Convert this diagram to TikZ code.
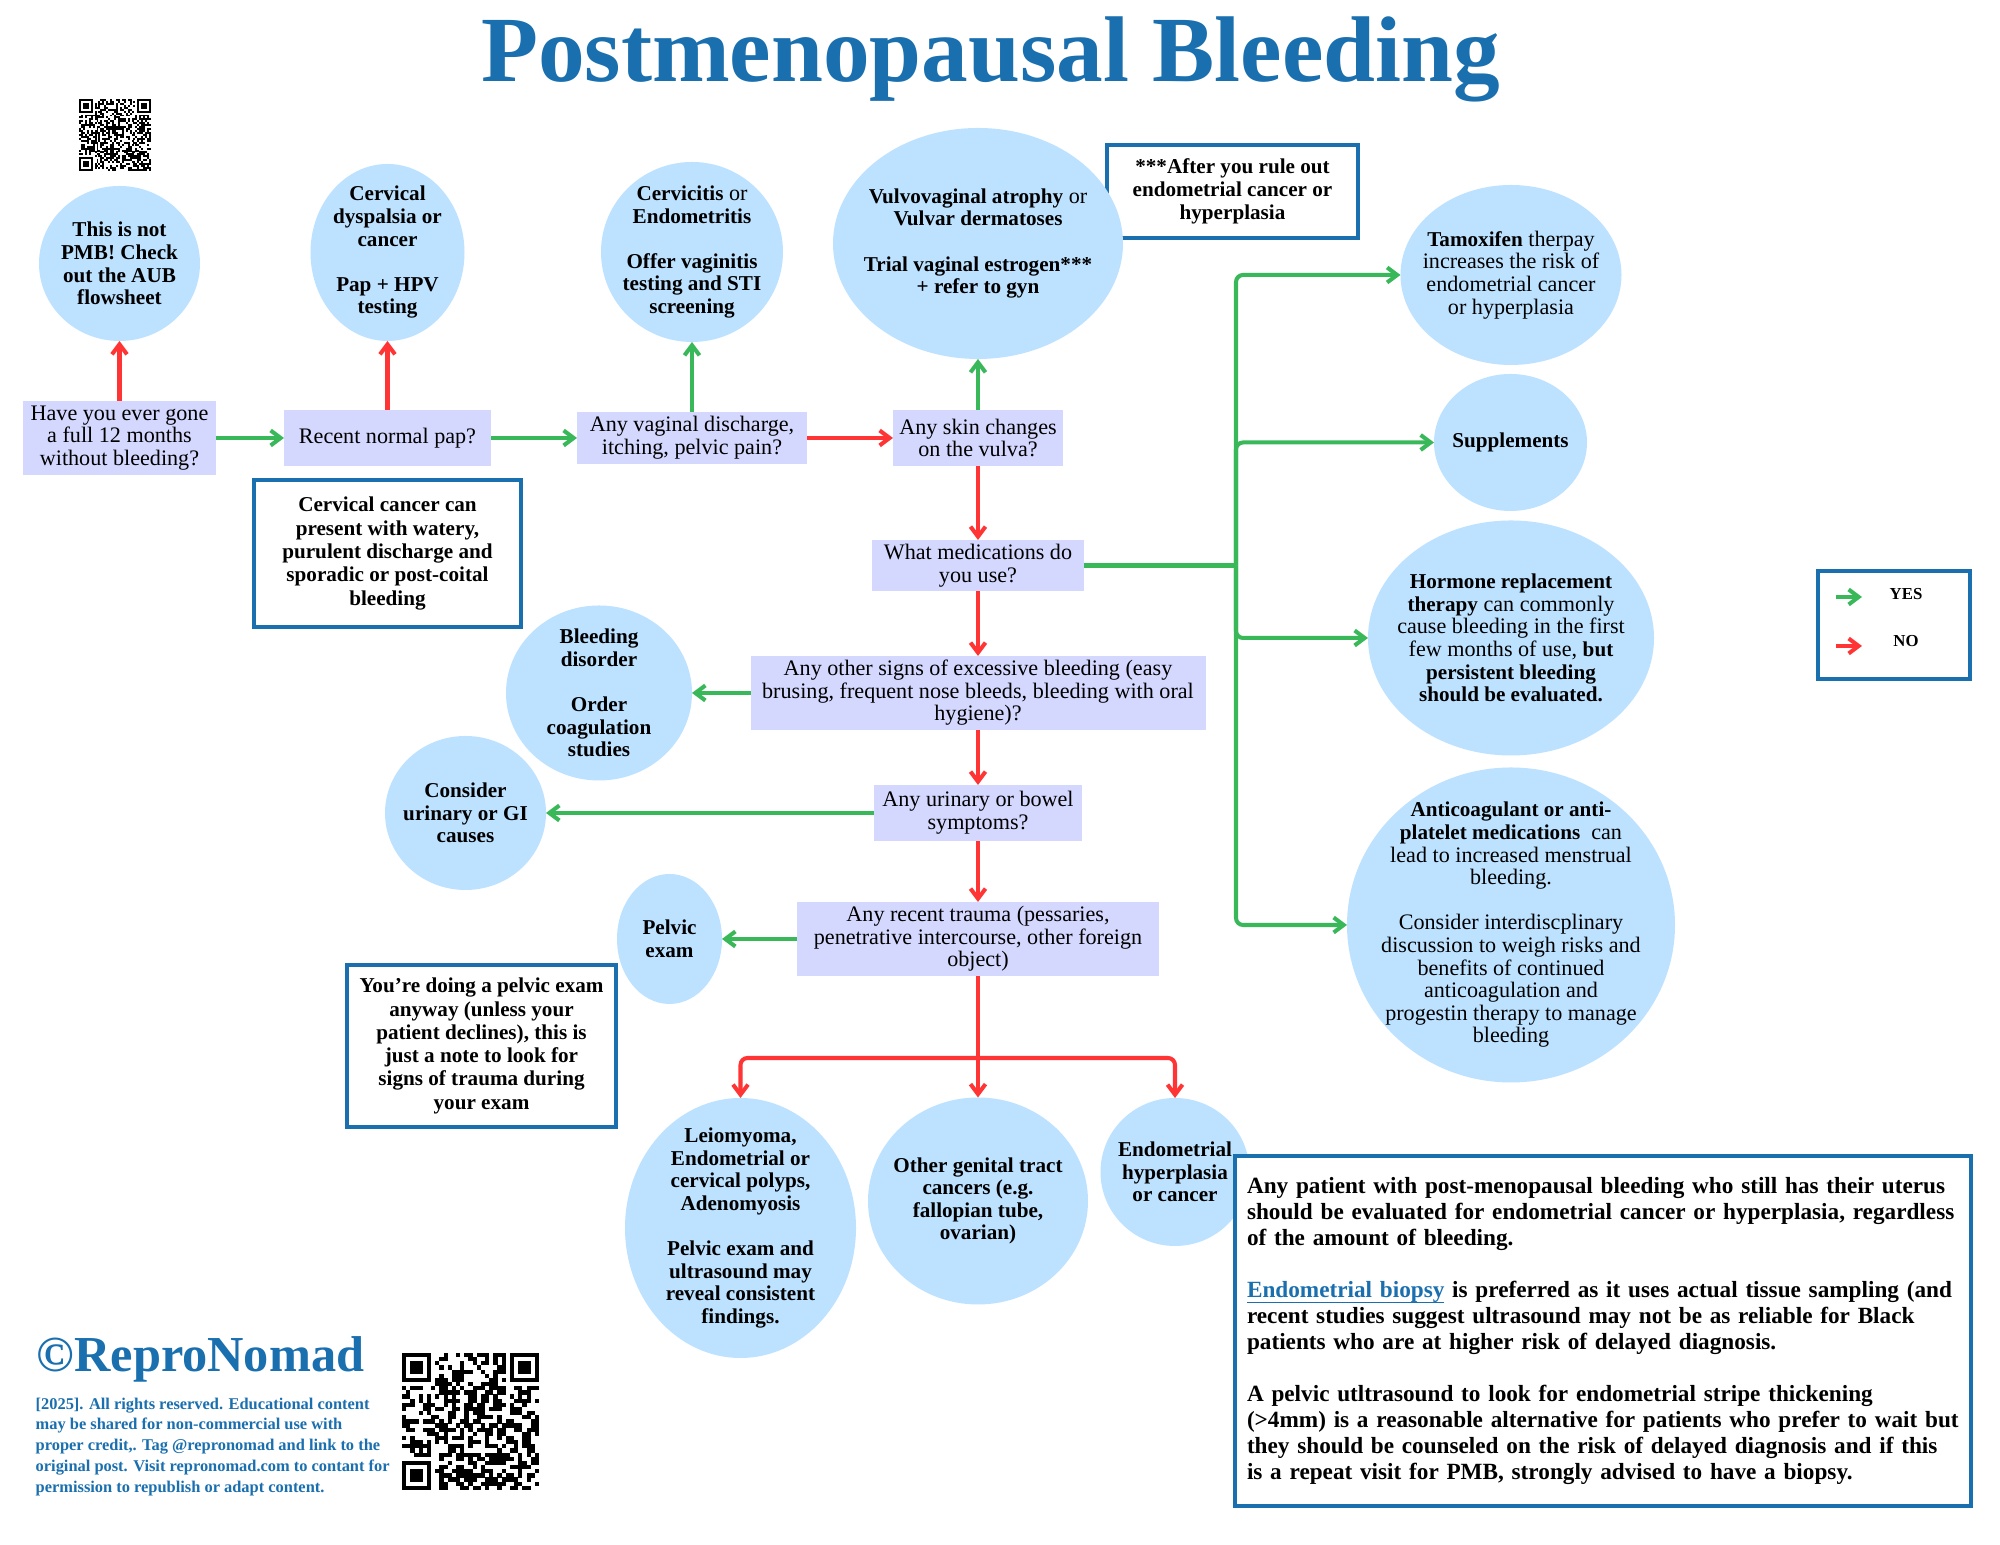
\documentclass[tikz,border=0pt]{standalone}
\usepackage{fontspec}
\setmainfont{Liberation Serif}[BoldFeatures={Scale=0.955}]
\usepackage{xcolor}
\usetikzlibrary{arrows.meta,positioning,calc,shapes.geometric}
\definecolor{BubbleBlue}{HTML}{BDE2FF}
\definecolor{QuestionLilac}{HTML}{D5D8FE}
\definecolor{NoteBlue}{HTML}{1A6FAF}
\definecolor{YesGreen}{HTML}{39B85A}
\definecolor{NoRed}{HTML}{FF3535}
\newcommand{\qrblock}[5]{%
  \begin{scope}[shift={(#1,#2)},x=#3cm/#4,y=#3cm/#4]
    \clip (0,0) rectangle (#4,#4);
    \pgfmathsetseed{#5}
    \pgfmathtruncatemacro{\qrlast}{#4-1}
    \foreach \qi in {0,...,\qrlast}
      \foreach \qj in {0,...,\qrlast} {
        \pgfmathrandominteger{\qrbit}{0}{1}
        \ifnum\qrbit=1 \fill[black] (\qi,\qj) rectangle +(1.02,1.02); \fi
      }
    \pgfmathtruncatemacro{\qrend}{#4-7}
    \foreach \qx/\qy in {0/0,0/\qrend,\qrend/\qrend} {
      \fill[white] (\qx-1,\qy-1) rectangle +(9,9);
      \fill[black] (\qx,\qy) rectangle +(7,7);
      \fill[white] (\qx+1,\qy+1) rectangle +(5,5);
      \fill[black] (\qx+2,\qy+2) rectangle +(3,3);
    }
  \end{scope}
}

\begin{document}
\begin{tikzpicture}[
  x=1cm,y=1cm,
  font=\fontsize{6.3}{6.43}\selectfont,
  yes/.style={-{Straight Barb[length=1mm,width=1.5mm]},draw=YesGreen,line width=1.15pt},
  no/.style={-{Straight Barb[length=1mm,width=1.5mm]},draw=NoRed,line width=1.15pt},
  bubble/.style={ellipse,fill=BubbleBlue,align=center,inner sep=-1.5cm,outer sep=0pt},
  boldbubble/.style={bubble,font=\fontsize{6.3}{6.43}\selectfont\bfseries},
  question/.style={fill=QuestionLilac,align=center,inner sep=0pt,outer sep=0pt},
  remark/.style={draw=NoteBlue,fill=white,line width=1.13pt,align=center,inner sep=0pt,
    outer sep=0pt,font=\fontsize{6.3}{6.62}\selectfont\bfseries}
]
  \useasboundingbox (0,0) rectangle (20,15.45);
  \fill[white] (0,0) rectangle (20,15.45);

  \node[anchor=base,text=NoteBlue,font=\fontsize{27.8}{30}\selectfont\bfseries] (title)
    at (9.905,14.63) {Postmenopausal Bleeding};

  \qrblock{0.79}{13.74}{0.72}{37}{7}

  \node[remark,minimum width=2.51cm,minimum height=0.93cm] (starnote) at (12.325,13.535)
    {***After you rule out\\endometrial cancer or\\hyperplasia};

  \node[boldbubble,minimum width=1.61cm,minimum height=1.55cm]
    (notpmb) at (1.195,12.815) {This is not\\PMB! Check\\out the AUB\\flowsheet};
  \node[boldbubble,minimum width=1.54cm,minimum height=1.77cm]
    (dysplasia) at (3.875,12.925) {Cervical\\dyspalsia or\\cancer\\[6.43pt]Pap + HPV\\testing};
  \node[bubble,minimum width=1.82cm,minimum height=1.80cm]
    (cervicitis) at (6.92,12.93)
    {\textbf{Cervicitis} or\\\textbf{Endometritis}\\[6.43pt]\textbf{Offer vaginitis}\\\textbf{testing and STI}\\\textbf{screening}};
  \node[bubble,minimum width=2.90cm,minimum height=2.31cm]
    (vulvo) at (9.78,13.015)
    {\textbf{Vulvovaginal atrophy} or\\\textbf{Vulvar dermatoses}\\[6.43pt]\textbf{Trial vaginal estrogen***}\\\textbf{+ refer to gyn}};

  \node[question,minimum width=1.93cm,minimum height=0.74cm] (fullyear) at (1.195,11.07)
    {Have you ever gone\\a full 12 months\\without bleeding?};
  \node[question,minimum width=2.07cm,minimum height=0.56cm] (normalpap) at (3.875,11.07)
    {Recent normal pap?};
  \node[question,minimum width=2.30cm,minimum height=0.52cm] (discharge) at (6.92,11.07)
    {Any vaginal discharge,\\itching, pelvic pain?};
  \node[question,minimum width=1.70cm,minimum height=0.56cm] (skin) at (9.78,11.07)
    {Any skin changes\\on the vulva?};
  \node[question,minimum width=2.12cm,minimum height=0.51cm] (meds) at (9.78,9.795)
    {What medications do\\you use?};
  \node[question,minimum width=4.55cm,minimum height=0.74cm] (excess) at (9.78,8.52)
    {Any other signs of excessive bleeding (easy\\brusing, frequent nose bleeds, bleeding with oral\\hygiene)?};
  \node[question,minimum width=2.08cm,minimum height=0.56cm] (urinary) at (9.78,7.32)
    {Any urinary or bowel\\symptoms?};
  \node[question,minimum width=3.62cm,minimum height=0.74cm] (trauma) at (9.78,6.06)
    {Any recent trauma (pessaries,\\penetrative intercourse, other foreign\\object)};

  \node[remark,minimum width=2.67cm,minimum height=1.47cm] (cervnote) at (3.875,9.915)
    {Cervical cancer can\\present with watery,\\purulent discharge and\\sporadic or post-coital\\bleeding};
  \node[remark,minimum width=2.69cm,minimum height=1.62cm] (pelvnote) at (4.815,4.99)
    {You’re doing a pelvic exam\\anyway (unless your\\patient declines), this is\\just a note to look for\\signs of trauma during\\your exam};

  \node[bubble,minimum width=2.21cm,minimum height=1.80cm] (tamoxifen) at (15.11,12.70)
    {\textbf{Tamoxifen} therpay\\increases the risk of\\endometrial cancer\\or hyperplasia};
  \node[bubble,minimum width=1.53cm,minimum height=1.37cm] (supplements) at (15.105,11.025)
    {\textbf{Supplements}};
  \node[bubble,minimum width=2.86cm,minimum height=2.35cm] (hormone) at (15.11,9.07)
    {\textbf{Hormone replacement}\\\textbf{therapy} can commonly\\cause bleeding in the first\\few months of use, \textbf{but}\\\textbf{persistent bleeding}\\\textbf{should be evaluated.}};
  \node[bubble,minimum width=3.28cm,minimum height=3.15cm] (anticoag) at (15.11,6.20)
    {\textbf{Anticoagulant or anti-}\\\textbf{platelet medications}~~can\\lead to increased menstrual\\bleeding.\\[6.43pt]Consider interdiscplinary\\discussion to weigh risks and\\benefits of continued\\anticoagulation and\\progestin therapy to manage\\bleeding};

  \node[boldbubble,minimum width=1.86cm,minimum height=1.75cm]
    (disorder) at (5.99,8.52) {Bleeding\\disorder\\[6.43pt]Order\\coagulation\\studies};
  \node[boldbubble,minimum width=1.61cm,minimum height=1.54cm]
    (gicauses) at (4.655,7.32) {Consider\\urinary or GI\\causes};
  \node[boldbubble,minimum width=1.05cm,minimum height=1.30cm]
    (pelvic) at (6.695,6.06) {Pelvic\\exam};
  \node[boldbubble,minimum width=2.31cm,minimum height=2.60cm]
    (leiomyoma) at (7.405,3.17)
    {Leiomyoma,\\Endometrial or\\cervical polyps,\\Adenomyosis\\[6.43pt]Pelvic exam and\\ultrasound may\\reveal consistent\\findings.};
  \node[boldbubble,minimum width=2.20cm,minimum height=2.07cm]
    (genital) at (9.78,3.44) {Other genital tract\\cancers (e.g.\\fallopian tube,\\ovarian)};
  \node[boldbubble,minimum width=1.49cm,minimum height=1.48cm]
    (endometrial) at (11.75,3.73) {Endometrial\\hyperplasia\\or cancer};

  \node[remark,minimum width=7.36cm,minimum height=3.50cm,text width=7.12cm,align=left,
    font=\fontsize{6.92}{7.39}\selectfont\bfseries]
    (biopsynote) at (16.03,2.14)
    {Any patient with post-menopausal bleeding who still has their uterus\\should be evaluated for endometrial cancer or hyperplasia, regardless\\of the amount of bleeding.\\[7.39pt]\textcolor{NoteBlue}{\underline{\smash{Endometrial biopsy}}} is preferred as it uses actual tissue sampling (and\\recent studies suggest ultrasound may not be as reliable for Black\\patients who are at higher risk of delayed diagnosis.\\[7.39pt]A pelvic utltrasound to look for endometrial stripe thickening\\(>4mm) is a reasonable alternative for patients who prefer to wait but\\they should be counseled on the risk of delayed diagnosis and if this\\is a repeat visit for PMB, strongly advised to have a biopsy.\par\vspace{2.3pt}};

  \node[draw=NoteBlue,fill=white,line width=1.13pt,minimum width=1.52cm,minimum height=1.08cm,
    inner sep=0pt] (legend) at (18.94,9.20) {};
  \node[font=\fontsize{5}{5.3}\selectfont\bfseries] (yeslabel) at (19.06,9.51) {YES};
  \node[font=\fontsize{5}{5.3}\selectfont\bfseries] (nolabel) at (19.06,9.04) {NO};
  \coordinate (yesstart) at (18.355,9.48);
  \coordinate (yesend) at (18.62,9.48);
  \coordinate (nostart) at (18.355,8.99);
  \coordinate (noend) at (18.62,8.99);
  \draw[yes] (yesstart) -- (yesend);
  \draw[no] (nostart) -- (noend);

  \draw[no] (fullyear.north) -- (notpmb.south);
  \draw[no] (normalpap.north) -- (dysplasia.south);
  \draw[yes] (discharge.north) -- (cervicitis.south);
  \draw[yes] (skin.north) -- (vulvo.south);
  \draw[yes] (fullyear.east) -- (normalpap.west);
  \draw[yes] (normalpap.east) -- (discharge.west);
  \draw[no] (discharge.east) -- (skin.west);
  \draw[no] (skin.south) -- (meds.north);
  \draw[no] (meds.south) -- (excess.north);
  \draw[no] (excess.south) -- (urinary.north);
  \draw[no] (urinary.south) -- (trauma.north);
  \draw[yes] (excess.west) -- (disorder.east);
  \draw[yes] (urinary.west) -- (gicauses.east);
  \draw[yes] (trauma.west) -- (pelvic.east);

  \coordinate (medtrunk) at ($(meds.east)+(1.52,0)$);
  \draw[draw=YesGreen,line width=1.5pt] (meds.east) -- (medtrunk);
  \draw[yes,rounded corners=2pt] (medtrunk) |- (tamoxifen.west);
  \draw[yes,rounded corners=2pt] (medtrunk) |- (supplements.west);
  \draw[yes,rounded corners=2pt] (medtrunk) |- (hormone.west);
  \draw[yes,rounded corners=2pt] (medtrunk) |- (anticoag.west);

  \coordinate (traumahub) at (9.78,4.87);
  \draw[no] (trauma.south) -- (genital.north);
  \draw[no,rounded corners=2pt] (traumahub) -| (leiomyoma.north);
  \draw[no,rounded corners=2pt] (traumahub) -| (endometrial.north);

  \node[anchor=base west,inner sep=0pt,text=NoteBlue,font=\fontsize{15}{17}\selectfont\bfseries]
    (repronomad) at (0.36,1.73) {©ReproNomad};
  \node[anchor=north west,inner sep=0pt,align=left,text=NoteBlue,font=\fontsize{4.89}{5.9}\selectfont\bfseries]
    (rights) at (0.35,1.48)
    {[2025]. All rights reserved. Educational content\\may be shared for non-commercial use with\\proper credit,. Tag @repronomad and link to the\\original post. Visit repronomad.com to contant for\\permission to republish or adapt content.};
  \qrblock{4.02}{0.55}{1.37}{33}{23}
\end{tikzpicture}
\end{document}
